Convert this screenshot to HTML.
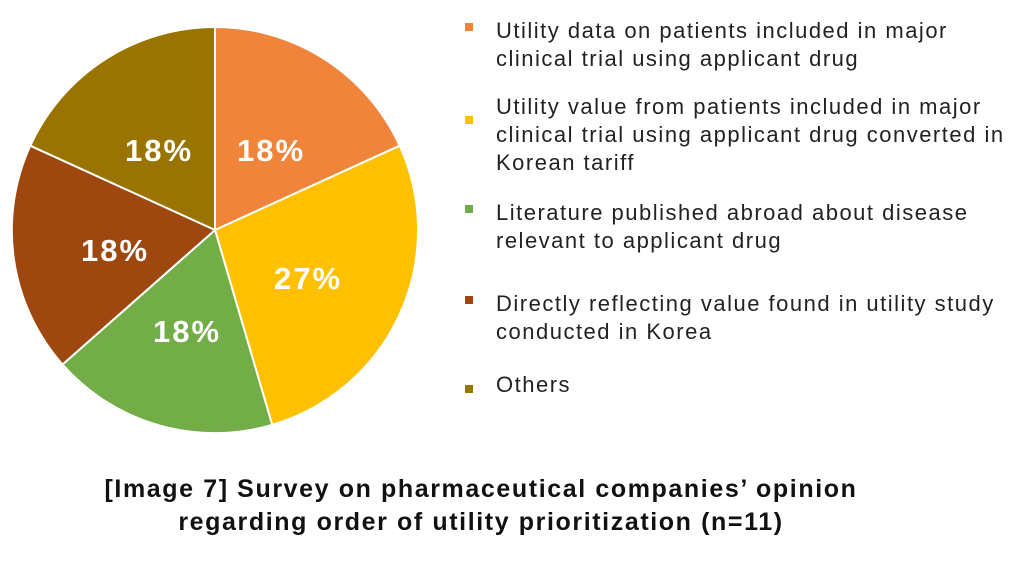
<!DOCTYPE html>
<html><head><meta charset="utf-8"><style>
html,body{margin:0;padding:0;background:#fff;width:1028px;height:576px;overflow:hidden;font-family:"Liberation Sans","DejaVu Sans",sans-serif}
.lg{position:absolute;left:496px;font-size:22px;color:#222;line-height:28px;letter-spacing:1.5px;white-space:nowrap}
.sq{position:absolute;left:465px;width:8px;height:8px}
.t{position:absolute;left:0;width:962px;text-align:center;font-weight:bold;font-size:25px;color:#111;line-height:33px;letter-spacing:1.6px;white-space:nowrap}
</style></head><body>
<svg width="1028" height="576" style="position:absolute;left:0;top:0">
<g stroke="#fff" stroke-width="2">
<path d="M215,230 L215,27 A203,203 0 0 1 399.7,145.7 Z" fill="#F0843A"/>
<path d="M215,230 L399.7,145.7 A203,203 0 0 1 272.2,424.8 Z" fill="#FFC000"/>
<path d="M215,230 L272.2,424.8 A203,203 0 0 1 62.5,364.5 Z" fill="#72AD48"/>
<path d="M215,230 L62.5,364.5 A203,203 0 0 1 30.3,145.7 Z" fill="#9E480F"/>
<path d="M215,230 L30.3,145.7 A203,203 0 0 1 215,27 Z" fill="#9A7400"/>
</g>
<g fill="#fff" font-family="Liberation Sans, sans-serif" font-weight="bold" font-size="31" letter-spacing="2" text-anchor="middle">
<text x="271" y="161">18%</text>
<text x="308" y="289">27%</text>
<text x="187" y="342">18%</text>
<text x="115" y="261">18%</text>
<text x="159" y="161">18%</text>
</g>
</svg>
<div class="sq" style="top:23px;background:#F0843A"></div>
<div class="lg" style="top:17px">Utility data on patients included in major<br>clinical trial using applicant drug</div>
<div class="sq" style="top:116px;background:#FFC000"></div>
<div class="lg" style="top:93px">Utility value from patients included in major<br>clinical trial using applicant drug converted in<br>Korean tariff</div>
<div class="sq" style="top:205px;background:#72AD48"></div>
<div class="lg" style="top:199px">Literature published abroad about disease<br>relevant to applicant drug</div>
<div class="sq" style="top:296px;background:#9E480F"></div>
<div class="lg" style="top:290px">Directly reflecting value found in utility study<br>conducted in Korea</div>
<div class="sq" style="top:385px;background:#9A7400"></div>
<div class="lg" style="top:371px">Others</div>
<div class="t" style="top:473px">[Image 7] Survey on pharmaceutical companies’ opinion<br>regarding order of utility prioritization (n=11)</div>
</body></html>
